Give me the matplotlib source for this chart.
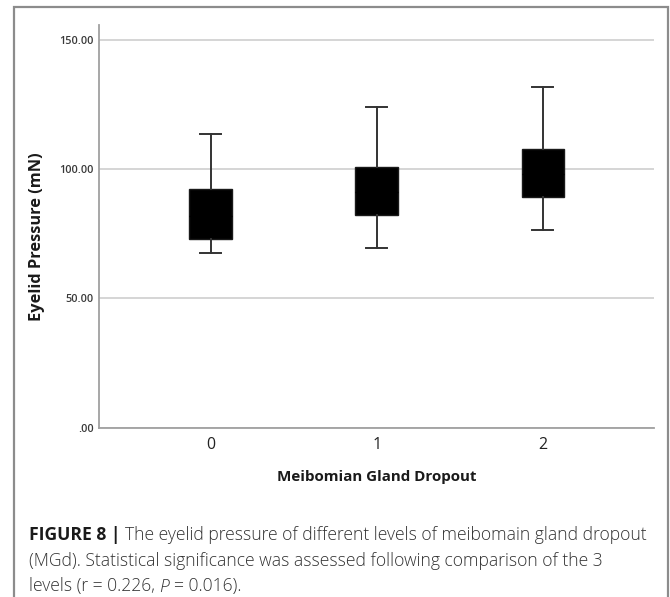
import matplotlib
matplotlib.use("Agg")
import matplotlib.pyplot as plt
from matplotlib.patches import Rectangle

# ---- data ----
groups = ["0", "1", "2"]
q1 = [73.0, 82.2, 89.2]
q3 = [92.2, 100.9, 107.7]
whislo = [67.6, 69.4, 76.4]
whishi = [113.5, 123.9, 132.0]
medians = [82.0, 91.0, 98.0]
yticks = [0, 50, 100, 150]
ytick_labels = [".00", "50.00", "100.00", "150.00"]
xlabel = "Meibomian Gland Dropout"
ylabel = "Eyelid Pressure (mN)"

W, H = 670, 597
fig = plt.figure(figsize=(W / 100, H / 100), dpi=100)
fig.patch.set_facecolor("white")

def px(x0, y0, x1, y1):
    return [x0 / W, 1 - y1 / H, (x1 - x0) / W, (y1 - y0) / H]

ax = fig.add_axes(px(99.3, 25, 654, 427.7))

stats = []
for i, g in enumerate(groups):
    stats.append(dict(label=g, q1=q1[i], q3=q3[i], med=medians[i],
                      whislo=whislo[i], whishi=whishi[i], fliers=[]))

ax.bxp(stats, positions=range(len(groups)), widths=0.257, capwidths=0.127,
       patch_artist=True, showfliers=False,
       boxprops=dict(facecolor="black", edgecolor="#1a1a1a", linewidth=1.0),
       whiskerprops=dict(color="#333333", linewidth=1.4),
       capprops=dict(color="#333333", linewidth=1.4),
       medianprops=dict(color="black", linewidth=1.0))

ax.set_xlim(-0.671, 2.669)
ax.set_ylim(0, 155.8)
ax.set_yticks(yticks)
ax.set_yticklabels(ytick_labels)
ax.set_xticks(range(len(groups)))
ax.set_xticklabels(groups)
ax.tick_params(axis="both", length=0)
ax.tick_params(axis="y", pad=4, labelsize=7.8, labelcolor="#3a3a3a")
ax.tick_params(axis="x", pad=6.5, labelsize=11.5, labelcolor="#222222")
for lab in ax.get_yticklabels():
    lab.set_fontfamily(["Open Sans", "DejaVu Sans"])
    lab.set_fontweight("semibold")
for lab in ax.get_xticklabels():
    lab.set_fontfamily(["Open Sans", "DejaVu Sans"])

ax.yaxis.grid(True, color="#d2d2d2", linewidth=1.3)
ax.set_axisbelow(True)
for s in ["top", "right"]:
    ax.spines[s].set_visible(False)
for s in ["left", "bottom"]:
    ax.spines[s].set_color("#a0a0a0")
    ax.spines[s].set_linewidth(1.3)

ax.set_xlabel(xlabel, fontsize=10.9, fontweight="bold", color="#1a1a1a",
              family=["Open Sans", "DejaVu Sans"])
ax.xaxis.label.set_va("center")
ax.xaxis.set_label_coords(0.5, -(477 - 427.7) / (427.7 - 25))
ax.set_ylabel(ylabel, fontsize=11.8, fontweight="bold", color="#1a1a1a",
              family=["Open Sans", "DejaVu Sans"])
ax.yaxis.label.set_va("center")
ax.yaxis.set_label_coords(-(99.3 - 36.7) / (654 - 99.3), 1 - (237 - 25) / (427.7 - 25))

# ---- outer frame ----
fig.add_artist(Rectangle((14 / W, -0.05), (668 - 14) / W, 1.05 - 7 / H,
                         transform=fig.transFigure, fill=False,
                         edgecolor="#8c8c8c", linewidth=1.6))

# ---- caption ----
cap_font = ["Open Sans", "DejaVu Sans"]
cap_size = 12.65
renderer = fig.canvas.get_renderer()

def width_of(s, **kw):
    t = fig.text(0, 0, s, **kw)
    w = t.get_window_extent(renderer).width
    t.remove()
    return w

def draw_line(x, y, pieces):
    for s, kw in pieces:
        lead = len(s) - len(s.lstrip(" "))
        core = s.strip(" ")
        trail = len(s) - len(s.rstrip(" "))
        sp = width_of("a a", **kw) - width_of("aa", **kw)
        x += lead * sp
        t = fig.text(x / W, 1 - y / H, core, va="baseline", ha="left", **kw)
        x += t.get_window_extent(renderer).width + trail * sp

reg = dict(family=cap_font, fontsize=cap_size, color="#333333", fontweight="light")
bold = dict(family=cap_font, fontsize=cap_size, color="#1a1a1a", fontweight="bold")
ital = dict(family=cap_font, fontsize=cap_size, color="#333333", style="italic",
            fontweight="light")

draw_line(29, 540, [("FIGURE 8 |", bold),
                    (" The eyelid pressure of different levels of meibomain gland dropout", reg)])
draw_line(29, 566, [("(MGd). Statistical significance was assessed following comparison of the 3", reg)])
draw_line(29, 591.5, [("levels (r = 0.226, ", reg), ("P", ital), (" = 0.016).", reg)])

fig.savefig("out.png", dpi=100)
